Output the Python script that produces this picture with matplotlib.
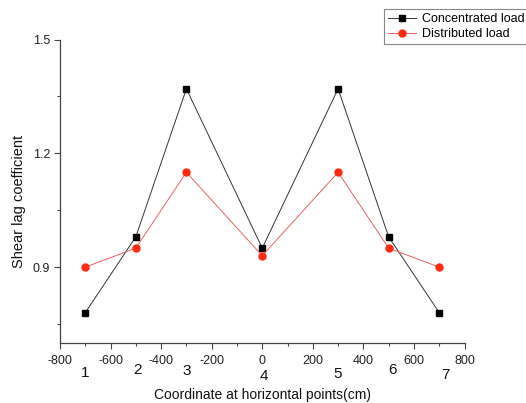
import matplotlib
matplotlib.use("Agg")
import matplotlib.pyplot as plt
from matplotlib.ticker import MultipleLocator

x = [-700, -500, -300, 0, 300, 500, 700]
concentrated = [0.78, 0.98, 1.37, 0.95, 1.37, 0.98, 0.78]
distributed = [0.90, 0.95, 1.15, 0.93, 1.15, 0.95, 0.90]
point_labels = ["1", "2", "3", "4", "5", "6", "7"]
point_dy = [-30, -27, -28, -33, -31, -27, -32]
point_dx = [0, 2, 0, 2, 0, 4, 6]

plt.rcParams['font.family'] = ['Liberation Sans', 'DejaVu Sans']
plt.rcParams['axes.unicode_minus'] = False
fig = plt.figure(figsize=(5.26, 4.03), dpi=100)
ax = fig.add_axes([60/526, 1-343/403, (464.5-60)/526, (343-39.5)/403])

ax.plot(x, concentrated, color='#333333', lw=0.7, marker='s', ms=4,
        mfc='black', mec='black', label='Concentrated load')
ax.plot(x, distributed, color='#f06060', lw=0.7, marker='o', ms=5,
        mfc='#ff2a10', mec='#ff2a10', label='Distributed load')

ax.set_xlim(-800, 800)
ax.set_ylim(0.7, 1.5)
ax.xaxis.set_major_locator(MultipleLocator(200))
ax.xaxis.set_minor_locator(MultipleLocator(100))
ax.set_yticks([0.9, 1.2, 1.5])
ax.set_yticks([0.75, 1.05, 1.35], minor=True)
ax.yaxis.set_major_formatter(plt.FuncFormatter(lambda v, p: f"{v:.1f}"))

for s in ['top', 'right']:
    ax.spines[s].set_visible(False)
for s in ['left', 'bottom']:
    ax.spines[s].set_color('#444444')
    ax.spines[s].set_linewidth(0.9)
ax.tick_params(which='major', direction='out', length=4, width=0.8, color='#444444',
               labelsize=9, labelcolor='#222222', pad=3)
ax.tick_params(axis='x', which='major', pad=4.5)
ax.tick_params(which='minor', direction='out', length=2.5, width=0.8, color='#444444')

for xi, lab, dy, dx in zip(x, point_labels, point_dy, point_dx):
    ax.annotate(lab, xy=(xi, 0), xycoords=('data', 'axes fraction'),
                xytext=(dx, dy), textcoords='offset pixels',
                ha='center', va='center', fontsize=11, color='#111111')

fig.text(262/526, 1-395.5/403, 'Coordinate at horizontal points(cm)', fontsize=10,
         ha='center', va='center', color='#111111')
fig.text(19/526, 1-201/403, 'Shear lag coefficient', fontsize=10.5, rotation=90,
         ha='center', va='center', color='#111111')

leg = fig.legend(loc='upper left', bbox_to_anchor=(384/526, 1-9/403), borderaxespad=0,
                 fancybox=False, edgecolor='#888888', fontsize=9, handlelength=2.2,
                 borderpad=0.35, labelspacing=0.2, handletextpad=0.5, framealpha=1)
leg.get_frame().set_linewidth(0.8)

fig.savefig('out.png', dpi=100)
